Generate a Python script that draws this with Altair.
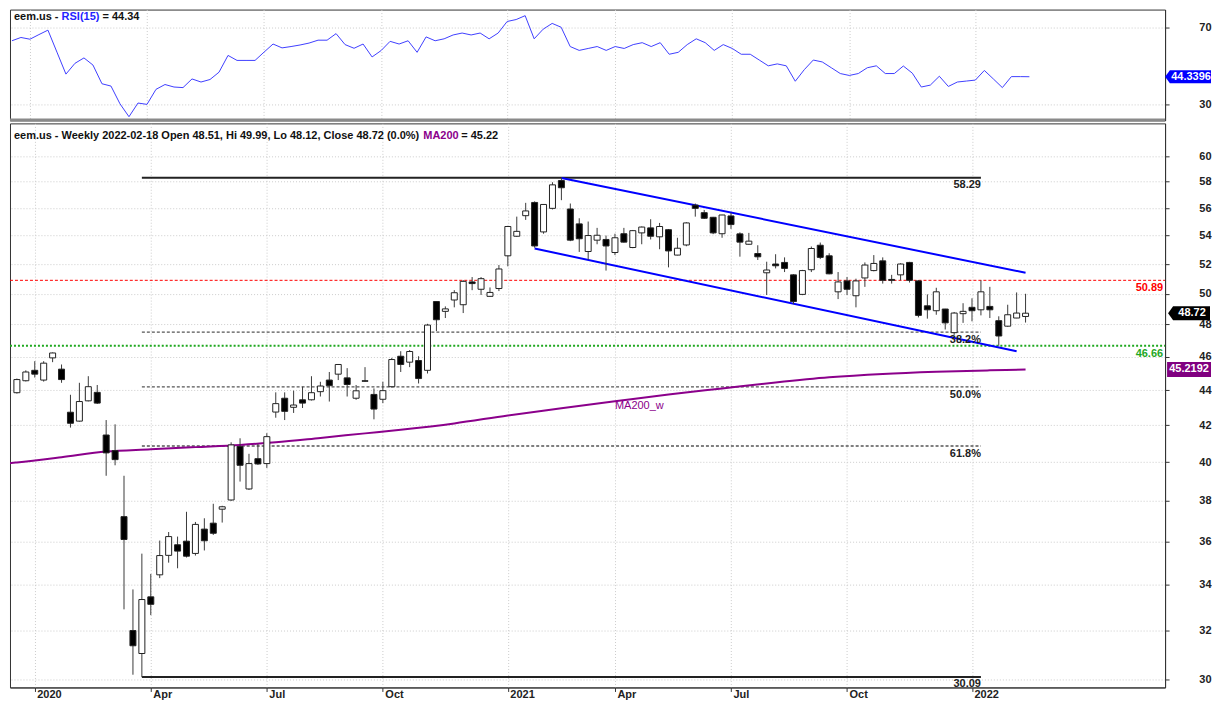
import altair as alt
import pandas as pd

FONT = "Liberation Sans"

# ---------------- data ----------------
start = pd.Timestamp("2019-12-20")
dates = [(start + pd.Timedelta(days=7 * i)).strftime("%Y-%m-%d") for i in range(114)]

opens = [43.85, 44.55, 45.17, 44.59, 45.92, 45.24, 42.73, 42.23, 43.38, 43.87,
         41.46, 40.61, 37.21, 32.00, 31.04, 33.46, 34.45, 35.35, 35.85, 36.02,
         35.44, 36.60, 36.89, 37.58, 38.04, 40.83, 38.60, 40.18, 39.92, 42.74,
         43.53, 43.01, 43.44, 43.44, 43.91, 44.59, 44.94, 44.72, 43.53, 44.55,
         43.75, 43.47, 44.20, 46.02, 45.66, 45.76, 45.17, 49.48, 48.84, 49.58,
         49.27, 50.78, 50.29, 49.82, 50.34, 52.57, 53.95, 55.44, 56.42, 54.26,
         55.98, 58.08, 55.93, 54.84, 52.87, 53.67, 53.72, 52.80, 54.13, 53.15,
         54.19, 54.55, 53.91, 54.42, 52.62, 53.33, 56.22, 55.66, 55.32, 54.13,
         55.42, 54.12, 53.38, 52.73, 51.40, 52.00, 52.11, 51.26, 49.95, 51.61,
         53.31, 52.57, 50.12, 50.85, 49.86, 51.05, 51.55, 52.22, 50.95, 51.26,
         52.11, 50.85, 49.20, 48.88, 48.99, 47.48, 48.69, 49.10, 48.94, 49.16,
         48.24, 47.89, 48.41, 48.51]
highs = [44.68, 45.17, 45.72, 45.72, 46.25, 45.52, 43.73, 44.43, 44.82, 44.30,
         42.29, 42.05, 39.28, 33.79, 35.43, 34.49, 36.05, 36.46, 36.24, 37.45,
         36.95, 37.13, 37.85, 37.75, 41.06, 41.28, 40.44, 40.97, 41.56, 43.87,
         43.87, 43.97, 44.20, 44.82, 44.49, 45.07, 45.55, 45.30, 44.30, 45.36,
         44.10, 44.49, 45.92, 46.33, 46.40, 46.02, 48.04, 49.50, 49.16, 50.23,
         50.90, 51.11, 51.11, 50.41, 51.93, 54.70, 55.37, 56.39, 56.50, 56.30,
         57.95, 58.29, 56.34, 55.25, 55.01, 54.55, 54.00, 54.13, 54.55, 54.40,
         54.65, 55.18, 54.91, 54.47, 53.84, 54.96, 56.34, 55.86, 55.35, 55.50,
         55.66, 54.23, 54.19, 53.31, 52.16, 52.68, 52.46, 51.30, 51.60, 53.22,
         53.50, 52.75, 51.45, 51.11, 51.00, 52.11, 52.62, 52.46, 51.26, 52.05,
         52.15, 50.90, 49.95, 50.39, 49.00, 48.80, 49.37, 49.69, 50.89, 50.45,
         48.52, 49.27, 50.08, 49.99]
lows = [43.80, 44.51, 44.74, 44.50, 45.66, 44.43, 41.87, 42.20, 43.35, 43.20,
        39.28, 39.83, 32.91, 30.18, 30.09, 32.66, 34.30, 35.01, 34.75, 35.25,
        35.34, 35.58, 36.32, 36.92, 38.00, 38.98, 38.55, 39.85, 39.69, 42.42,
        42.29, 42.69, 42.97, 43.40, 43.63, 43.34, 44.59, 43.63, 43.44, 44.50,
        42.33, 43.25, 44.15, 45.07, 45.36, 44.39, 44.98, 47.58, 48.41, 49.10,
        48.73, 50.23, 49.91, 49.80, 50.17, 51.84, 53.90, 55.13, 53.14, 54.13,
        55.90, 56.59, 53.60, 52.84, 52.30, 53.38, 51.55, 52.62, 53.50, 53.10,
        53.38, 53.72, 53.03, 51.77, 52.60, 53.24, 55.37, 55.20, 54.10, 53.84,
        54.48, 52.51, 53.35, 52.28, 49.91, 51.70, 51.45, 49.31, 49.90, 51.45,
        52.34, 51.30, 49.64, 49.91, 49.10, 50.45, 51.50, 50.67, 50.67, 50.89,
        50.74, 48.45, 48.37, 48.62, 47.68, 47.34, 48.10, 48.20, 48.58, 48.41,
        46.66, 47.85, 48.40, 48.12]
closes = [44.62, 45.07, 44.94, 45.60, 46.22, 44.62, 42.11, 43.34, 44.20, 43.25,
          40.49, 40.13, 36.10, 31.36, 33.34, 33.13, 35.34, 36.24, 35.55, 35.31,
          36.83, 36.04, 36.40, 37.70, 40.92, 39.83, 39.92, 39.90, 41.37, 43.22,
          42.78, 43.14, 43.25, 43.85, 44.24, 44.26, 45.52, 44.33, 43.96, 44.52,
          42.91, 43.97, 45.82, 45.52, 46.31, 44.68, 47.96, 48.30, 49.00, 50.06,
          50.82, 50.67, 51.00, 50.08, 51.66, 54.65, 54.30, 55.79, 53.26, 56.27,
          57.75, 57.53, 53.67, 53.77, 54.00, 54.02, 53.26, 53.84, 53.53, 54.35,
          54.61, 53.95, 54.65, 52.91, 53.10, 54.91, 55.98, 55.25, 54.19, 55.49,
          54.79, 53.53, 53.60, 52.50, 51.59, 51.88, 51.70, 49.48, 51.55, 53.08,
          52.46, 51.33, 50.78, 50.29, 50.85, 51.93, 52.04, 50.89, 50.89, 52.00,
          50.89, 48.58, 48.94, 50.12, 48.10, 48.73, 48.84, 48.88, 50.12, 48.94,
          47.27, 48.62, 48.73, 48.72]
rsi = [63.0, 64.7, 63.8, 66.2, 68.5, 57.1, 45.7, 51.3, 54.1, 50.4,
       40.7, 39.5, 30.3, 23.6, 30.7, 30.0, 37.8, 40.3, 39.0, 38.7,
       43.2, 41.6, 42.9, 46.7, 55.4, 52.8, 52.8, 52.8, 57.1, 61.3,
       59.3, 60.0, 60.8, 61.8, 63.3, 63.3, 66.7, 61.0, 59.1, 61.3,
       54.6, 57.9, 62.7, 61.3, 63.0, 57.0, 65.0, 63.0, 64.0, 66.0,
       67.0, 66.0, 67.0, 64.0, 67.0, 73.0, 74.0, 76.0, 64.0, 69.0,
       72.0, 70.0, 60.0, 58.0, 59.0, 60.0, 58.0, 60.0, 59.0, 61.0,
       62.0, 60.0, 62.0, 56.0, 57.0, 61.0, 64.0, 62.0, 58.0, 61.0,
       59.0, 56.0, 56.0, 53.0, 50.0, 51.0, 50.0, 42.0, 48.0, 53.0,
       52.0, 49.0, 46.0, 45.0, 46.0, 49.0, 50.0, 46.0, 46.0, 49.9,
       46.2, 39.0, 40.0, 44.6, 39.3, 41.6, 42.1, 42.6, 47.6, 43.2,
       38.7, 44.4, 44.4, 44.34]

ma_dates = ["2019-12-13", "2019-12-20", "2020-01-24", "2020-02-28", "2020-04-03", "2020-05-08",
            "2020-06-12", "2020-07-10", "2020-08-14", "2020-09-18", "2020-10-16",
            "2020-11-27", "2021-01-08", "2021-02-19", "2021-04-02", "2021-05-14",
            "2021-06-25", "2021-08-06", "2021-09-17", "2021-10-29", "2021-12-10",
            "2022-01-21", "2022-02-18"]
ma_vals = [39.93, 39.98, 40.26, 40.56, 40.68, 40.80, 40.92, 41.06, 41.30, 41.55, 41.75,
           42.10, 42.55, 42.95, 43.35, 43.75, 44.10, 44.45, 44.75, 44.95, 45.08,
           45.17, 45.22]

range_levels = [58.29, 30.09]
range_labels = ["58.29", "30.09"]
fib_levels = [47.52, 44.19, 40.86]
fib_labels = ["38.2%", "50.0%", "61.8%"]
level_start, level_end = "2020-03-27", "2022-01-14"

chan_start = ["2021-02-19", "2021-01-29"]
chan_end = ["2022-02-18", "2022-02-11"]
chan_p1 = [58.28, 53.08]
chan_p2 = [51.40, 46.32]

red_level, green_level = 50.89, 46.66

# ---------------- layout ----------------
W = 1157
H_RSI = 111
H_PX = 565

xdom = [alt.DateTime(year=2019, month=12, date=18, hours=12, utc=True),
        alt.DateTime(year=2022, month=6, date=3, hours=12, utc=True)]
tick_vals = [alt.DateTime(year=y, month=m, date=d, utc=True) for (y, m, d) in
             [(2020, 1, 3), (2020, 4, 3), (2020, 7, 3), (2020, 10, 2), (2021, 1, 8),
              (2021, 4, 2), (2021, 7, 2), (2021, 10, 1), (2022, 1, 7)]]
xscale = alt.Scale(domain=xdom)
label_expr = "utcmonth(datum.value) == 0 ? utcFormat(datum.value, '%Y') : utcFormat(datum.value, '%b')"

xaxis_px = alt.Axis(values=tick_vals, labelExpr=label_expr, orient="bottom", title=None,
                    grid=True, gridColor="#cccccc", gridDash=[1, 2],
                    tickSize=4, tickColor="#333", domainColor="#333",
                    labelAlign="left", labelOffset=2, labelPadding=-3, labelBaseline="top",
                    labelFont=FONT, labelFontSize=11, labelFontWeight="bold", labelColor="#222",
                    labelFlush=False, labelOverlap=False)
xaxis_rsi = alt.Axis(values=tick_vals, title=None, grid=True, gridColor="#cccccc", gridDash=[1, 2],
                     labels=False, ticks=False, domain=False, minExtent=0)

yscale = alt.Scale(type="log", domain=[29.675, 62.65], nice=False, zero=False)
yaxis = alt.Axis(orient="right", values=list(range(30, 61, 2)), format="d", title=None,
                 grid=True, gridColor="#cccccc", gridDash=[1, 2],
                 tickSize=4, tickColor="#333", domainColor="#333",
                 labelFont=FONT, labelFontSize=11, labelFontWeight="bold", labelColor="#222",
                 labelAlign="right", labelPadding=42, labelBaseline="middle")


def PX(f):
    return alt.X(f"{f}:T", scale=xscale, axis=xaxis_px, title=None)


def PY(f):
    return alt.Y(f"{f}:Q", scale=yscale, axis=yaxis, title=None)


candles = pd.DataFrame({"date": dates, "open": opens, "high": highs, "low": lows, "close": closes})
candles["dir"] = ["down" if c < o else "up" for o, c in zip(opens, closes)]

wicks = alt.Chart(candles).mark_rule(color="#3a3a3a", strokeWidth=1).encode(
    x=PX("date"), y=PY("low"), y2="high")
bodies = alt.Chart(candles).mark_bar(size=6, stroke="#222", strokeWidth=1).encode(
    x=PX("date"), y=PY("open"), y2="close",
    fill=alt.Fill("dir:N", scale=alt.Scale(domain=["up", "down"], range=["#ffffff", "#000000"]), legend=None))

ma_df = pd.DataFrame({"date": ma_dates, "ma": ma_vals})
ma_line = alt.Chart(ma_df).mark_line(color="#8b008b", strokeWidth=2, interpolate="monotone",
                                     clip=True).encode(x=PX("date"), y=PY("ma"))

rng_df = pd.DataFrame({"date": [level_start] * 2, "date2": [level_end] * 2,
                       "price": range_levels, "label": range_labels})
rng_rules = alt.Chart(rng_df).mark_rule(color="#222", strokeWidth=2).encode(
    x=PX("date"), x2="date2", y=PY("price"))
rng_text = alt.Chart(rng_df).mark_text(align="right", baseline="middle", dy=7, font=FONT,
                                       fontSize=11, fontWeight="bold", color="#222").encode(
    x=PX("date2"), y=PY("price"), text="label:N")

fib_df = pd.DataFrame({"date": [level_start] * 3, "date2": [level_end] * 3,
                       "price": fib_levels, "label": fib_labels})
fib_rules = alt.Chart(fib_df).mark_rule(color="#555", strokeWidth=1.3, strokeDash=[3, 2]).encode(
    x=PX("date"), x2="date2", y=PY("price"))
fib_text = alt.Chart(fib_df).mark_text(align="right", baseline="middle", dy=8, font=FONT,
                                       fontSize=11, fontWeight="bold", color="#222").encode(
    x=PX("date2"), y=PY("price"), text="label:N")

chan_df = pd.DataFrame({"date": chan_start, "date2": chan_end, "price": chan_p1, "price2": chan_p2})
chan = alt.Chart(chan_df).mark_rule(color="#0000ff", strokeWidth=2).encode(
    x=PX("date"), x2="date2", y=PY("price"), y2="price2")

red_df = pd.DataFrame({"price": [red_level], "label": [f"{red_level:.2f}"]})
green_df = pd.DataFrame({"price": [green_level], "label": [f"{green_level:.2f}"]})
red_rule = alt.Chart(red_df).mark_rule(color="#ff0000", strokeWidth=1, strokeDash=[3, 2]).encode(
    x=alt.value(0), x2=alt.value(W), y=PY("price"))
red_text = alt.Chart(red_df).mark_text(align="right", baseline="middle", dy=8, font=FONT,
                                       fontSize=11, fontWeight="bold", color="#ff0000").encode(
    x=alt.value(W - 2), y=PY("price"), text="label:N")
green_rule = alt.Chart(green_df).mark_rule(color="#1fa81f", strokeWidth=2, strokeDash=[2, 2]).encode(
    x=alt.value(0), x2=alt.value(W), y=PY("price"))
green_text = alt.Chart(green_df).mark_text(align="right", baseline="middle", dy=8, font=FONT,
                                           fontSize=11, fontWeight="bold", color="#1fa81f").encode(
    x=alt.value(W - 2), y=PY("price"), text="label:N")

ma_lbl_df = pd.DataFrame({"date": ["2021-04-02"], "price": [43.06], "label": ["MA200_w"]})
ma_lbl = alt.Chart(ma_lbl_df).mark_text(align="left", baseline="middle", font=FONT, fontSize=11,
                                        color="#8b008b").encode(
    x=PX("date"), y=PY("price"), text="label:N")


def header(txt, xpos, ypos, color):
    return alt.Chart(pd.DataFrame({"t": [txt]})).mark_text(
        align="left", baseline="middle", font=FONT, fontSize=11, fontWeight="bold", color=color
    ).encode(x=alt.value(xpos), y=alt.value(ypos), text="t:N")


px_head = (header("eem.us - Weekly 2022-02-18 Open 48.51, Hi 49.99, Lo 48.12, Close 48.72 (0.0%)", 4, 13, "#111")
           + header("MA200", 414, 13, "#8b008b")
           + header("= 45.22", 452, 13, "#111"))

tag_path = "M -1 0 L -0.76 -0.333 L 1 -0.333 L 1 0.333 L -0.76 0.333 Z"
box_path = "M -1 -0.34 L 1 -0.34 L 1 0.34 L -1 0.34 Z"

close_df = pd.DataFrame({"price": [48.72], "label": ["48.72"]})
close_tag = alt.Chart(close_df).mark_point(shape=tag_path, size=1764, filled=True, color="#000",
                                           opacity=1, strokeWidth=0).encode(
    x=alt.value(W + 24), y=PY("price"))
close_txt = alt.Chart(close_df).mark_text(align="center", baseline="middle", dx=3, font=FONT,
                                          fontSize=11, fontWeight="bold", color="#fff").encode(
    x=alt.value(W + 24), y=PY("price"), text="label:N")

mav_df = pd.DataFrame({"price": [45.2192], "label": ["45.2192"]})
ma_tag = alt.Chart(mav_df).mark_point(shape=box_path, size=1936, filled=True, color="#800080",
                                      opacity=1, strokeWidth=0).encode(
    x=alt.value(W + 24), y=PY("price"))
ma_txt = alt.Chart(mav_df).mark_text(align="center", baseline="middle", font=FONT, fontSize=11,
                                     fontWeight="bold", color="#fff").encode(
    x=alt.value(W + 24), y=PY("price"), text="label:N")

price_panel = alt.layer(
    red_rule, green_rule, fib_rules, rng_rules, ma_line, chan, wicks, bodies,
    rng_text, fib_text, red_text, green_text, ma_lbl, px_head,
    close_tag, close_txt, ma_tag, ma_txt
).properties(width=W, height=H_PX)

# ---------------- RSI panel ----------------
rsi_scale = alt.Scale(domain=[21.7, 79.17], nice=False, zero=False)
rsi_axis = alt.Axis(orient="right", values=[30, 70], format="d", title=None,
                    grid=True, gridColor="#cccccc", gridDash=[1, 2],
                    tickSize=4, tickColor="#333", domainColor="#333",
                    labelFont=FONT, labelFontSize=11, labelFontWeight="bold", labelColor="#222",
                    labelAlign="right", labelPadding=42, labelBaseline="middle")


def RX(f):
    return alt.X(f"{f}:T", scale=xscale, axis=xaxis_rsi, title=None)


def RY(f):
    return alt.Y(f"{f}:Q", scale=rsi_scale, axis=rsi_axis, title=None)


rsi_df = pd.DataFrame({"date": dates, "rsi": rsi})
rsi_line = alt.Chart(rsi_df).mark_line(color="#3f3fff", strokeWidth=1).encode(x=RX("date"), y=RY("rsi"))

rsi_head = (header("eem.us - ", 4, 7, "#111")
            + header("RSI(15)", 51.7, 7, "#2323ff")
            + header("= 44.34", 92.7, 7, "#111"))

rsi_tag_df = pd.DataFrame({"rsi": [44.34], "label": ["44.3396"]})
rsi_tag = alt.Chart(rsi_tag_df).mark_point(
    shape="M -1 0 L -0.79 -0.28 L 1 -0.28 L 1 0.28 L -0.79 0.28 Z", size=2116, filled=True,
    color="#0000ff", opacity=1, strokeWidth=0).encode(x=alt.value(W + 23), y=RY("rsi"))
rsi_tag_txt = alt.Chart(rsi_tag_df).mark_text(align="center", baseline="middle", dx=3, font=FONT,
                                              fontSize=11, fontWeight="bold", color="#fff").encode(
    x=alt.value(W + 23), y=RY("rsi"), text="label:N")

sep = alt.Chart(pd.DataFrame({"a": [0]})).mark_rule(color="#8a8a8a", strokeWidth=3).encode(
    x=alt.value(0), x2=alt.value(W), y=alt.value(H_RSI - 0.5))

rsi_panel = alt.layer(rsi_line, rsi_head, rsi_tag, rsi_tag_txt, sep).properties(width=W, height=H_RSI)

chart = alt.VConcatChart(vconcat=[rsi_panel, price_panel], spacing=0, padding=0,
                         background="#ffffff").configure_view(stroke="#333", strokeWidth=1)

chart.save("out.html", embed_options={"renderer": "svg", "actions": False})
